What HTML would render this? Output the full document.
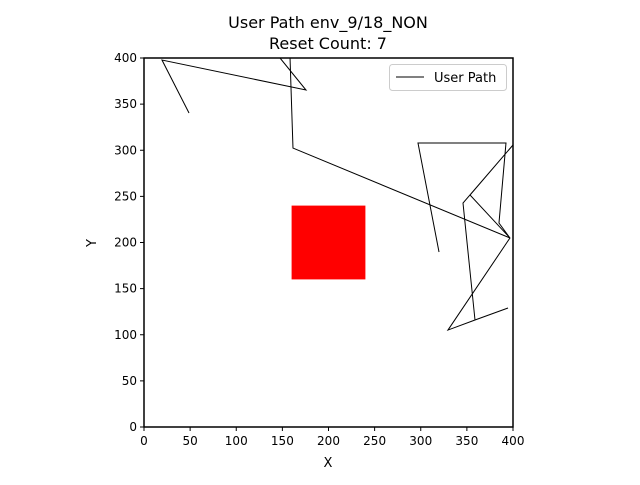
<!DOCTYPE html>
<html><head><meta charset="utf-8"><style>
body{margin:0;background:#fff}
svg{font-family:"DejaVu Sans","Liberation Sans",sans-serif}
</style></head><body>
<svg width="640" height="480">
<g id="root"></g>
</svg>
<script>
const xs=[48.8,19.5,175.6,147.4,158.3,161.5,396.7,353.4,400,345.8,358.8,394.6,358.8,329.5,396.7,384.8,392.4,297,319.8];
const ys=[340.4,397.8,365.3,400,400,302.4,204.9,251.5,305.7,242.8,116,129,116,105.1,204.9,221.1,307.9,307.9,189.7];
const ticks=[0,50,100,150,200,250,300,350,400];
const obstacle=[160,160,240,240];
const L=144,R=513,T=58,B=427;
const sx=v=>L+(v/400)*(R-L), sy=v=>B-(v/400)*(B-T);
const NS='http://www.w3.org/2000/svg';
const root=document.getElementById('root');
function mk(t,a,txt){const e=document.createElementNS(NS,t);for(const k in a)e.setAttribute(k,a[k]);if(txt!==undefined)e.textContent=txt;root.appendChild(e);return e;}
let e;
e=mk('rect',{x:sx(obstacle[0]),y:sy(obstacle[3]),width:sx(obstacle[2])-sx(obstacle[0]),height:sy(obstacle[1])-sy(obstacle[3]),fill:'#ff0000'});


e=mk('polyline',{points:xs.map((x,i)=>sx(x)+','+sy(ys[i])).join(' '),fill:'none',stroke:'#000','stroke-width':1});


e=mk('rect',{x:L,y:T,width:R-L,height:B-T,fill:'none',stroke:'#000','stroke-width':1.5});


ticks.forEach(t=>{
 e=mk('line',{x1:sx(t),x2:sx(t),y1:B,y2:B+4,stroke:'#000'});
 
 
 e=mk('text',{x:sx(t),y:B+18,'text-anchor':'middle','font-size':12},t);
 
 
 e=mk('line',{x1:L-4,x2:L,y1:sy(t),y2:sy(t),stroke:'#000'});
 
 
 e=mk('text',{x:L-7,y:sy(t)+4,'text-anchor':'end','font-size':12},t);
 
 
});
e=mk('text',{x:328,y:467,'text-anchor':'middle','font-size':13},'X');


e=mk('text',{x:96,y:243,'text-anchor':'middle','font-size':13,transform:'rotate(-90 96 243)'},'Y');


e=mk('text',{x:328,y:28,'text-anchor':'middle','font-size':16},'User Path env_9/18_NON');


e=mk('text',{x:328,y:49,'text-anchor':'middle','font-size':16},'Reset Count: 7');


e=mk('rect',{x:389.5,y:64.5,width:117,height:26,rx:3,fill:'#fff',stroke:'#ccc'});


e=mk('line',{x1:396,x2:424,y1:77,y2:77,stroke:'#000'});


e=mk('text',{x:434,y:82,'font-size':13},'User Path');


</script>
</body></html>
